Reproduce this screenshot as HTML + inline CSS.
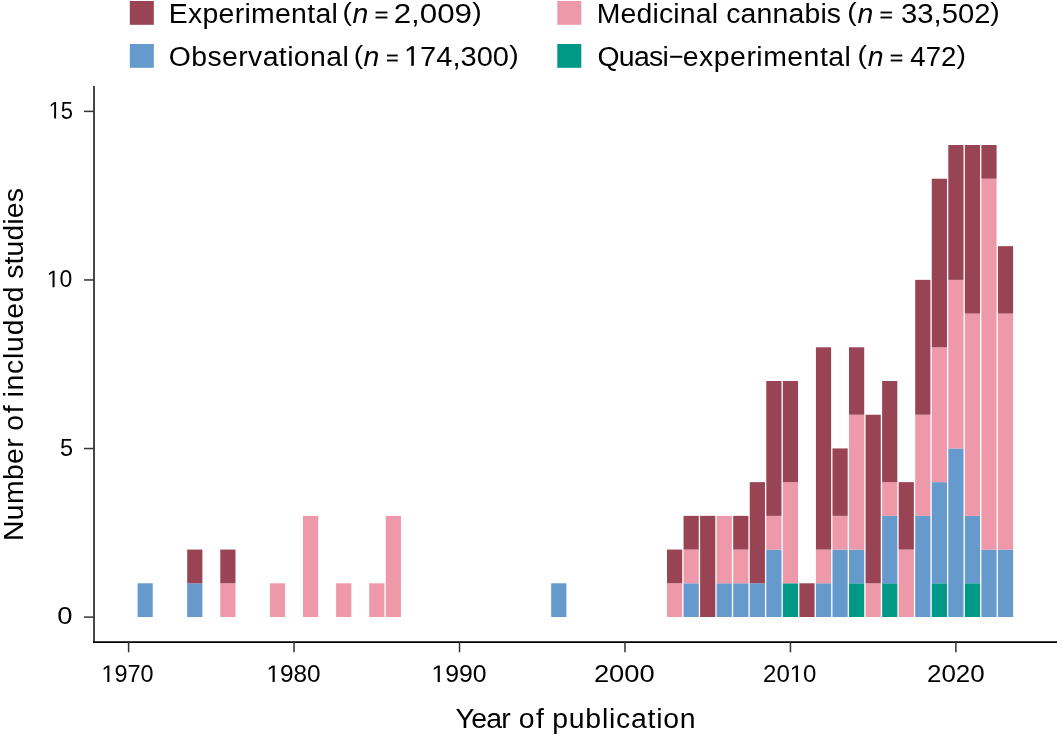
<!DOCTYPE html>
<html><head><meta charset="utf-8"><title>Included studies by year of publication</title><style>
html,body{margin:0;padding:0;background:#fff;width:1057px;height:735px;overflow:hidden}
svg{display:block;will-change:transform}
text{font-family:"Liberation Sans",sans-serif;fill:#000}
.tk{font-size:24px}
.lg{font-size:28.4px}
</style></head><body>
<svg width="1057" height="735" viewBox="0 0 1057 735">
<rect x="137.55" y="583.29" width="15.20" height="33.71" fill="#6699CC"/>
<rect x="187.18" y="583.29" width="15.20" height="33.71" fill="#6699CC"/>
<rect x="187.18" y="549.57" width="15.20" height="33.71" fill="#994455"/>
<rect x="220.28" y="583.29" width="15.20" height="33.71" fill="#EE99AA"/>
<rect x="220.28" y="549.57" width="15.20" height="33.71" fill="#994455"/>
<rect x="269.91" y="583.29" width="15.20" height="33.71" fill="#EE99AA"/>
<rect x="303.01" y="515.86" width="15.20" height="101.14" fill="#EE99AA"/>
<rect x="336.10" y="583.29" width="15.20" height="33.71" fill="#EE99AA"/>
<rect x="369.19" y="583.29" width="15.20" height="33.71" fill="#EE99AA"/>
<rect x="385.74" y="515.86" width="15.20" height="101.14" fill="#EE99AA"/>
<rect x="551.20" y="583.29" width="15.20" height="33.71" fill="#6699CC"/>
<rect x="667.02" y="583.29" width="15.20" height="33.71" fill="#EE99AA"/>
<rect x="667.02" y="549.57" width="15.20" height="33.71" fill="#994455"/>
<rect x="683.56" y="583.29" width="15.20" height="33.71" fill="#6699CC"/>
<rect x="683.56" y="549.57" width="15.20" height="33.71" fill="#EE99AA"/>
<rect x="683.56" y="515.86" width="15.20" height="33.71" fill="#994455"/>
<rect x="700.11" y="515.86" width="15.20" height="101.14" fill="#994455"/>
<rect x="716.66" y="583.29" width="15.20" height="33.71" fill="#6699CC"/>
<rect x="716.66" y="515.86" width="15.20" height="67.43" fill="#EE99AA"/>
<rect x="733.20" y="583.29" width="15.20" height="33.71" fill="#6699CC"/>
<rect x="733.20" y="549.57" width="15.20" height="33.71" fill="#EE99AA"/>
<rect x="733.20" y="515.86" width="15.20" height="33.71" fill="#994455"/>
<rect x="749.75" y="583.29" width="15.20" height="33.71" fill="#6699CC"/>
<rect x="749.75" y="482.14" width="15.20" height="101.14" fill="#994455"/>
<rect x="766.29" y="549.57" width="15.20" height="67.43" fill="#6699CC"/>
<rect x="766.29" y="515.86" width="15.20" height="33.71" fill="#EE99AA"/>
<rect x="766.29" y="381.00" width="15.20" height="134.86" fill="#994455"/>
<rect x="782.84" y="583.29" width="15.20" height="33.71" fill="#009988"/>
<rect x="782.84" y="482.14" width="15.20" height="101.14" fill="#EE99AA"/>
<rect x="782.84" y="381.00" width="15.20" height="101.14" fill="#994455"/>
<rect x="799.39" y="583.29" width="15.20" height="33.71" fill="#994455"/>
<rect x="815.93" y="583.29" width="15.20" height="33.71" fill="#6699CC"/>
<rect x="815.93" y="549.57" width="15.20" height="33.71" fill="#EE99AA"/>
<rect x="815.93" y="347.29" width="15.20" height="202.28" fill="#994455"/>
<rect x="832.48" y="549.57" width="15.20" height="67.43" fill="#6699CC"/>
<rect x="832.48" y="515.86" width="15.20" height="33.71" fill="#EE99AA"/>
<rect x="832.48" y="448.43" width="15.20" height="67.43" fill="#994455"/>
<rect x="849.02" y="583.29" width="15.20" height="33.71" fill="#009988"/>
<rect x="849.02" y="549.57" width="15.20" height="33.71" fill="#6699CC"/>
<rect x="849.02" y="414.72" width="15.20" height="134.86" fill="#EE99AA"/>
<rect x="849.02" y="347.29" width="15.20" height="67.43" fill="#994455"/>
<rect x="865.57" y="583.29" width="15.20" height="33.71" fill="#EE99AA"/>
<rect x="865.57" y="414.72" width="15.20" height="168.57" fill="#994455"/>
<rect x="882.12" y="583.29" width="15.20" height="33.71" fill="#009988"/>
<rect x="882.12" y="515.86" width="15.20" height="67.43" fill="#6699CC"/>
<rect x="882.12" y="482.14" width="15.20" height="33.71" fill="#EE99AA"/>
<rect x="882.12" y="381.00" width="15.20" height="101.14" fill="#994455"/>
<rect x="898.66" y="549.57" width="15.20" height="67.43" fill="#EE99AA"/>
<rect x="898.66" y="482.14" width="15.20" height="67.43" fill="#994455"/>
<rect x="915.21" y="515.86" width="15.20" height="101.14" fill="#6699CC"/>
<rect x="915.21" y="414.72" width="15.20" height="101.14" fill="#EE99AA"/>
<rect x="915.21" y="279.86" width="15.20" height="134.86" fill="#994455"/>
<rect x="931.75" y="583.29" width="15.20" height="33.71" fill="#009988"/>
<rect x="931.75" y="482.14" width="15.20" height="101.14" fill="#6699CC"/>
<rect x="931.75" y="347.29" width="15.20" height="134.86" fill="#EE99AA"/>
<rect x="931.75" y="178.72" width="15.20" height="168.57" fill="#994455"/>
<rect x="948.30" y="448.43" width="15.20" height="168.57" fill="#6699CC"/>
<rect x="948.30" y="279.86" width="15.20" height="168.57" fill="#EE99AA"/>
<rect x="948.30" y="145.00" width="15.20" height="134.86" fill="#994455"/>
<rect x="964.85" y="583.29" width="15.20" height="33.71" fill="#009988"/>
<rect x="964.85" y="515.86" width="15.20" height="67.43" fill="#6699CC"/>
<rect x="964.85" y="313.57" width="15.20" height="202.28" fill="#EE99AA"/>
<rect x="964.85" y="145.00" width="15.20" height="168.57" fill="#994455"/>
<rect x="981.39" y="549.57" width="15.20" height="67.43" fill="#6699CC"/>
<rect x="981.39" y="178.72" width="15.20" height="370.85" fill="#EE99AA"/>
<rect x="981.39" y="145.00" width="15.20" height="33.71" fill="#994455"/>
<rect x="997.94" y="549.57" width="15.20" height="67.43" fill="#6699CC"/>
<rect x="997.94" y="313.57" width="15.20" height="236.00" fill="#EE99AA"/>
<rect x="997.94" y="246.15" width="15.20" height="67.43" fill="#994455"/>
<line x1="94" y1="86" x2="94" y2="643" stroke="#333333" stroke-width="1.8"/>
<line x1="93.1" y1="642.1" x2="1057" y2="642.1" stroke="#000" stroke-width="1.7"/>
<line x1="84" y1="617.10" x2="94" y2="617.10" stroke="#333333" stroke-width="1.5"/>
<text class="tk" x="57.29" y="624.3" textLength="15.28" lengthAdjust="spacingAndGlyphs">0</text>
<line x1="84" y1="448.53" x2="94" y2="448.53" stroke="#333333" stroke-width="1.5"/>
<text class="tk" x="59.96" y="455.73" textLength="13.09" lengthAdjust="spacingAndGlyphs">5</text>
<line x1="84" y1="279.96" x2="94" y2="279.96" stroke="#333333" stroke-width="1.5"/>
<text class="tk" id="o1" x="46.75" y="287.16" textLength="25.54" lengthAdjust="spacingAndGlyphs"> 0</text>
<line x1="84" y1="111.39" x2="94" y2="111.39" stroke="#333333" stroke-width="1.5"/>
<text class="tk" id="o2" x="48.63" y="118.59" textLength="24.39" lengthAdjust="spacingAndGlyphs"> 5</text>
<line x1="128.60" y1="642" x2="128.60" y2="652.3" stroke="#333333" stroke-width="1.5"/>
<text class="tk" id="o3" x="101.42" y="681.9" textLength="52.08" lengthAdjust="spacingAndGlyphs"> 970</text>
<line x1="294.06" y1="642" x2="294.06" y2="652.3" stroke="#333333" stroke-width="1.5"/>
<text class="tk" id="o4" x="266.45" y="681.9" textLength="54.19" lengthAdjust="spacingAndGlyphs"> 980</text>
<line x1="459.52" y1="642" x2="459.52" y2="652.3" stroke="#333333" stroke-width="1.5"/>
<text class="tk" id="o5" x="431.42" y="681.9" textLength="55.04" lengthAdjust="spacingAndGlyphs"> 990</text>
<line x1="624.98" y1="642" x2="624.98" y2="652.3" stroke="#333333" stroke-width="1.5"/>
<text class="tk" x="593.92" y="681.9" textLength="60.85" lengthAdjust="spacingAndGlyphs">2000</text>
<line x1="790.44" y1="642" x2="790.44" y2="652.3" stroke="#333333" stroke-width="1.5"/>
<text class="tk" id="o6" x="763.08" y="681.9" textLength="53.39" lengthAdjust="spacingAndGlyphs">20 0</text>
<line x1="955.90" y1="642" x2="955.90" y2="652.3" stroke="#333333" stroke-width="1.5"/>
<text class="tk" x="926.99" y="681.9" textLength="57.68" lengthAdjust="spacingAndGlyphs">2020</text>
<text class="lg" x="455.5" y="727.6" textLength="55.32" lengthAdjust="spacing">Year</text>
<text class="lg" x="518.85" y="727.6" textLength="25.11" lengthAdjust="spacing">of</text>
<text class="lg" x="552.25" y="727.6" textLength="143.28" lengthAdjust="spacing">publication</text>
<g transform="translate(22.9,540) rotate(-90)">
<text class="lg" x="-0.95" y="0" textLength="102.56" lengthAdjust="spacing">Number</text>
<text class="lg" x="109.25" y="0" textLength="25.35" lengthAdjust="spacing">of</text>
<text class="lg" x="142.49" y="0" textLength="111.07" lengthAdjust="spacing">included</text>
<text class="lg" x="261.2" y="0" textLength="90.71" lengthAdjust="spacing">studies</text>
</g>
<rect x="129.8" y="1" width="24" height="23.8" fill="#994455"/>
<text class="lg" x="168.65" y="23.0" textLength="169.19" lengthAdjust="spacing">Experimental</text>
<text class="lg" x="352.42" y="23.0" font-style="italic">n</text>
<text class="lg" x="393.73" y="23.0" textLength="78.31" lengthAdjust="spacingAndGlyphs">2,009</text>
<g transform="translate(0,21.30) scale(1,0.936)"><text class="lg" x="342.39" y="0">(</text></g>
<g transform="translate(0,21.30) scale(1,0.936)"><text class="lg" x="472.25" y="0">)</text></g>
<g transform="translate(0,21.70) scale(1,0.733)"><text class="lg" x="374.51" y="0" textLength="13.98" lengthAdjust="spacingAndGlyphs" stroke="#000" stroke-width="0.25">=</text></g>
<rect x="129.8" y="44" width="24" height="23.8" fill="#6699CC"/>
<text class="lg" x="168.8" y="65.8" textLength="179.92" lengthAdjust="spacing">Observational</text>
<text class="lg" x="363.42" y="65.8" font-style="italic">n</text>
<text class="lg" id="o7" x="403.98" y="65.8" textLength="104.96" lengthAdjust="spacingAndGlyphs"> 74,300</text>
<g transform="translate(0,64.10) scale(1,0.936)"><text class="lg" x="353.69" y="0">(</text></g>
<g transform="translate(0,64.10) scale(1,0.936)"><text class="lg" x="509.25" y="0">)</text></g>
<g transform="translate(0,64.50) scale(1,0.733)"><text class="lg" x="386.12" y="0" textLength="12.77" lengthAdjust="spacingAndGlyphs" stroke="#000" stroke-width="0.25">=</text></g>
<rect x="557.3" y="1" width="24" height="23.8" fill="#EE99AA"/>
<text class="lg" x="596.75" y="23.0" textLength="244.31" lengthAdjust="spacing">Medicinal cannabis</text>
<text class="lg" x="857.52" y="23.0" font-style="italic">n</text>
<text class="lg" x="901.04" y="23.0" textLength="89.38" lengthAdjust="spacingAndGlyphs">33,502</text>
<g transform="translate(0,21.30) scale(1,0.936)"><text class="lg" x="847.19" y="0">(</text></g>
<g transform="translate(0,21.30) scale(1,0.936)"><text class="lg" x="990.35" y="0">)</text></g>
<g transform="translate(0,21.70) scale(1,0.733)"><text class="lg" x="879.55" y="0" textLength="13.5" lengthAdjust="spacingAndGlyphs" stroke="#000" stroke-width="0.25">=</text></g>
<rect x="557.3" y="44" width="24" height="23.8" fill="#009988"/>
<text class="lg" x="597.42" y="65.8" textLength="71.41" lengthAdjust="spacing">Quasi</text>
<text class="lg" x="867.82" y="65.8" font-style="italic">n</text>
<text class="lg" x="910.36" y="65.8" textLength="45.99" lengthAdjust="spacingAndGlyphs">472</text>
<text class="lg" x="668.94" y="65.8" textLength="14.6" lengthAdjust="spacingAndGlyphs">−</text>
<text class="lg" x="682.83" y="65.8" textLength="168.07" lengthAdjust="spacing">experimental</text>
<g transform="translate(0,64.10) scale(1,0.936)"><text class="lg" x="857.39" y="0">(</text></g>
<g transform="translate(0,64.10) scale(1,0.936)"><text class="lg" x="956.45" y="0">)</text></g>
<g transform="translate(0,64.50) scale(1,0.733)"><text class="lg" x="889.75" y="0" textLength="13.5" lengthAdjust="spacingAndGlyphs" stroke="#000" stroke-width="0.25">=</text></g>
<path d="M515 0L515 1237L197 1010L197 1180L530 1409L696 1409L696 0Z" transform="matrix(0.01122 0 0 -0.01172 46.75 287.16)"/>
<path d="M515 0L515 1237L197 1010L197 1180L530 1409L696 1409L696 0Z" transform="matrix(0.01071 0 0 -0.01172 48.63 118.59)"/>
<path d="M515 0L515 1237L197 1010L197 1180L530 1409L696 1409L696 0Z" transform="matrix(0.01144 0 0 -0.01172 101.42 681.90)"/>
<path d="M515 0L515 1237L197 1010L197 1180L530 1409L696 1409L696 0Z" transform="matrix(0.01190 0 0 -0.01172 266.45 681.90)"/>
<path d="M515 0L515 1237L197 1010L197 1180L530 1409L696 1409L696 0Z" transform="matrix(0.01209 0 0 -0.01172 431.42 681.90)"/>
<path d="M515 0L515 1237L197 1010L197 1180L530 1409L696 1409L696 0Z" transform="matrix(0.01173 0 0 -0.01172 789.77 681.90)"/>
<path d="M515 0L515 1237L197 1010L197 1180L530 1409L696 1409L696 0Z" transform="matrix(0.01418 0 0 -0.01387 403.98 65.80)"/>
</svg>
</body></html>
